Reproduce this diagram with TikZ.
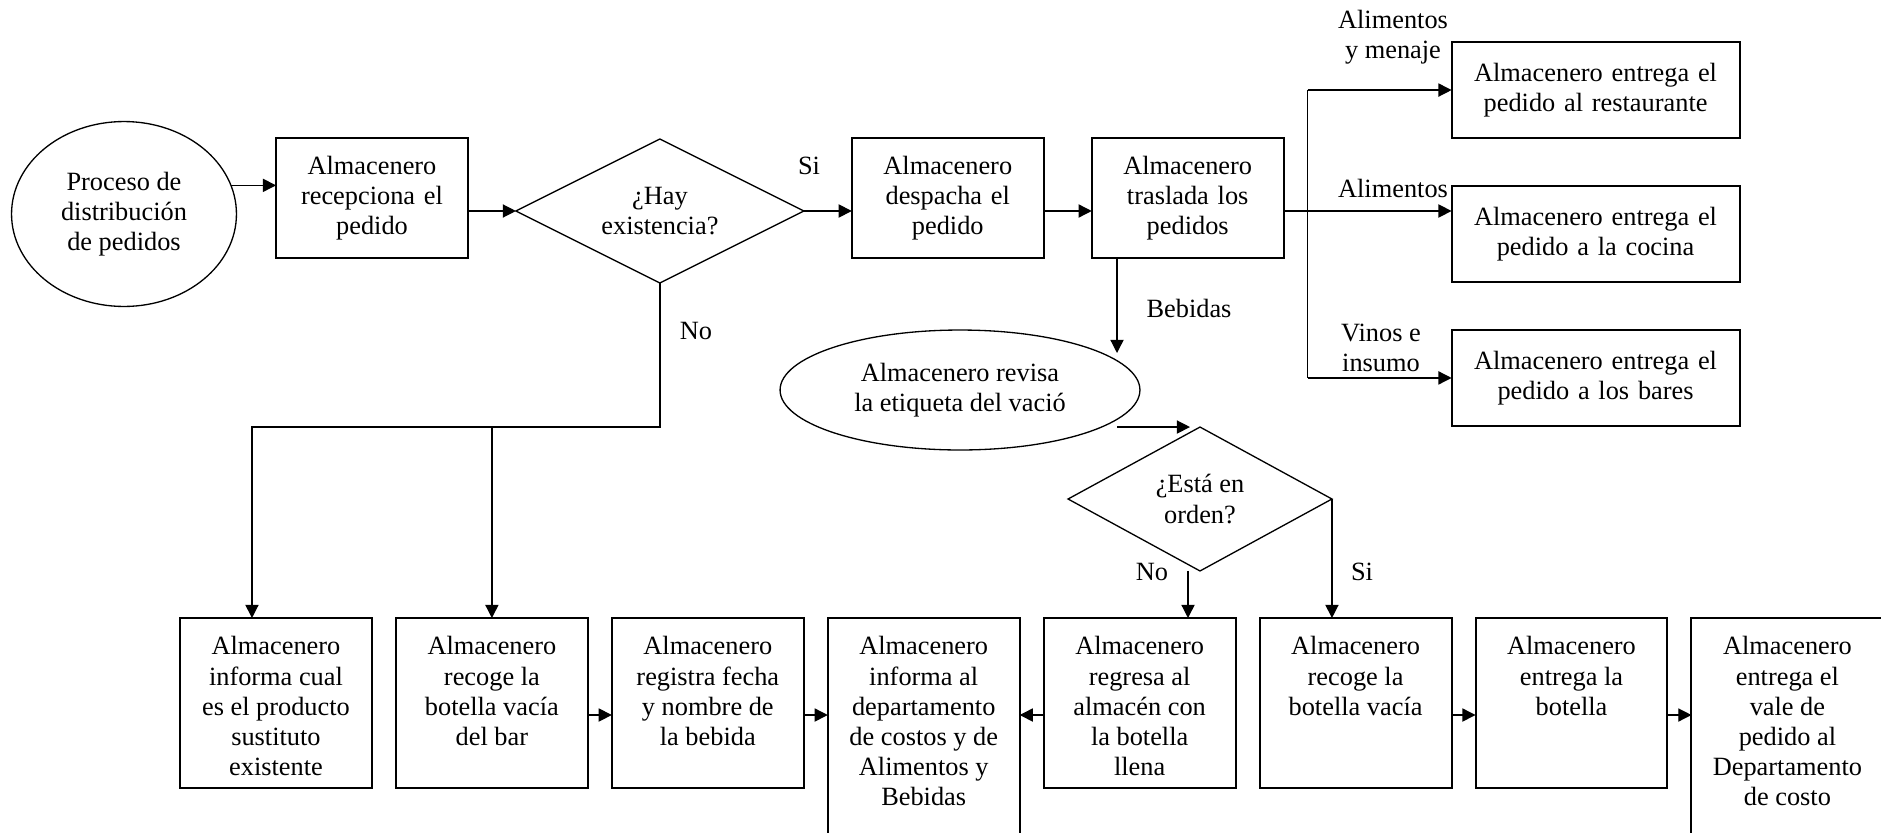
\documentclass[tikz,border=0pt]{standalone}
\usepackage{fontspec}
\setmainfont{Liberation Serif}
\usetikzlibrary{arrows.meta, positioning, shapes.geometric}

% text of the lower boxes starts at the top
\newcommand{\toptext}[2]{\parbox[c][#1][t]{3.072cm}{\centering\vspace*{8.5pt}#2}}

\begin{document}
\begin{tikzpicture}[
    x=0.016cm, y=-0.016cm,
    font=\fontsize{12}{13.7}\selectfont,
    block/.style={rectangle, draw=black, line width=0.9pt, inner sep=0pt, outer sep=0pt, minimum width=3.072cm, minimum height=1.92cm, text width=2.9cm, align=center},
    wide/.style={block, minimum width=4.608cm, minimum height=1.536cm, text width=4.4cm},
    lowbox/.style={rectangle, draw=black, line width=0.9pt, inner sep=0pt, outer sep=0pt, anchor=north west},
    decision/.style={diamond, draw=black, line width=0.6pt, inner sep=0pt, outer sep=0pt, align=center},
    oval/.style={ellipse, draw=black, line width=0.6pt, inner sep=0pt, outer sep=0pt, align=center},
    tag/.style={inner sep=0pt, align=center},
    arrow/.style={-{Triangle[length=6pt, width=6pt]}, line width=0.6pt}
]
    \useasboundingbox (0,0) rectangle (1881,832);
    \clip (0,0) rectangle (1881,832);

    % upper row
    \node[oval, minimum width=3.6cm, minimum height=2.96cm] (inicio) at (124,214) {Proceso de\\distribución\\de pedidos};
    \node[block] (recibe) at (372,198) {Almacenero\\recepciona el\\pedido};
    \node[decision, shape aspect=2, minimum width=4.608cm, minimum height=2.304cm, right=0.768cm of recibe, yshift=-0.208cm] (hay) {¿Hay\\existencia?};
    \node[block, right=0.768cm of hay, yshift=0.208cm] (despacha) {Almacenero\\despacha el\\pedido};
    \node[block, right=0.768cm of despacha] (traslada) {Almacenero\\traslada los\\pedidos};
    \node[wide, right=2.688cm of traslada, yshift=-0.576cm] (cocina) {Almacenero entrega el\\pedido a la cocina};
    \node[wide, above=0.768cm of cocina] (restaurante) {Almacenero entrega el\\pedido al restaurante};
    \node[wide, below=0.768cm of cocina] (bares) {Almacenero entrega el\\pedido a los bares};

    % bebidas
    \node[oval, minimum width=5.76cm, minimum height=1.92cm] (revisa) at (960,390) {Almacenero revisa\\la etiqueta del vació};
    \node[decision, shape aspect=1.8, minimum width=4.224cm, minimum height=2.304cm] (esta) at (1200,499) {¿Está en\\orden?};

    % lower row
    \node[lowbox] (sustituto) at (180,618) {\toptext{2.72cm}{Almacenero\\informa cual\\es el producto\\sustituto\\existente}};
    \node[lowbox, right=0.384cm of sustituto.north east, anchor=north west] (botella) {\toptext{2.72cm}{Almacenero\\recoge la\\botella vacía\\del bar}};
    \node[lowbox, right=0.384cm of botella.north east, anchor=north west] (registra) {\toptext{2.72cm}{Almacenero\\registra fecha\\y nombre de\\la bebida}};
    \node[lowbox, right=0.384cm of registra.north east, anchor=north west] (costos) {\toptext{4.2cm}{Almacenero\\informa al\\departamento\\de costos y de\\Alimentos y\\Bebidas}};
    \node[lowbox, right=0.384cm of costos.north east, anchor=north west] (regresa) {\toptext{2.72cm}{Almacenero\\regresa al\\almacén con\\la botella\\llena}};
    \node[lowbox, right=0.384cm of regresa.north east, anchor=north west] (recoge) {\toptext{2.72cm}{Almacenero\\recoge la\\botella vacía}};
    \node[lowbox, right=0.384cm of recoge.north east, anchor=north west] (entrega) {\toptext{2.72cm}{Almacenero\\entrega la\\botella}};
    \node[lowbox, right=0.384cm of entrega.north east, anchor=north west] (vale) {\toptext{4.2cm}{Almacenero\\entrega el\\vale de\\pedido al\\Departamento\\de costo}};

    % labels
    \node[tag] (lsi) at (809,166) {Si};
    \node[tag] (lno) at (696,331) {No};
    \node[tag] (lmenaje) at (1393,37) {Alimentos\\y menaje};
    \node[tag] (lalimentos) at (1393,188) {Alimentos};
    \node[tag] (lvinos) at (1381,348) {Vinos e\\insumo};
    \node[tag] (lbebidas) at (1189,308) {Bebidas};
    \node[tag] (lnoesta) at (1152,572) {No};
    \node[tag] (lsiesta) at (1362,572) {Si};

    \coordinate (ramal) at ([xshift=0.384cm]traslada.east);
    \coordinate (bebidas) at (1117,353);
    \coordinate (nocruce) at ([yshift=-2.304cm]hay.south);
    \coordinate (noizq) at ([xshift=-0.384cm]sustituto.north);
    \coordinate (noesta) at ([xshift=-0.192cm]esta.south);
    \coordinate (fila) at (0,715);

    \draw[arrow] (inicio.15) -- (inicio.15 -| recibe.west);
    \draw[arrow] (recibe.east |- hay.west) -- (hay.west);
    \draw[arrow] (hay.east) -- (hay.east -| despacha.west);
    \draw[arrow] (despacha.east |- hay.east) -- (traslada.west |- hay.east);
    \draw[arrow] (traslada.east |- hay.east) -- (cocina.west |- hay.east);
    \draw (ramal |- restaurante.west) -- (ramal |- bares.west);
    \draw[arrow] (ramal |- restaurante.west) -- (restaurante.west);
    \draw[arrow] (ramal |- bares.west) -- (bares.west);

    \draw[arrow] (traslada.south -| bebidas) -- (bebidas);
    \draw[arrow] ([xshift=-1.328cm]esta.north) -- ([xshift=-0.16cm]esta.north);
    \draw[arrow] (noesta) -- (noesta |- regresa.north);
    \draw[arrow] (esta.east) -- (esta.east |- recoge.north);

    \draw[arrow] (hay.south) -- (nocruce) -| (noizq);
    \draw[arrow] (botella.north |- nocruce) -- (botella.north);

    \draw[arrow] (botella.east |- fila) -- (registra.west |- fila);
    \draw[arrow] (registra.east |- fila) -- (costos.west |- fila);
    \draw[arrow] (regresa.west |- fila) -- (costos.east |- fila);
    \draw[arrow] (recoge.east |- fila) -- (entrega.west |- fila);
    \draw[arrow] (entrega.east |- fila) -- (vale.west |- fila);
\end{tikzpicture}
\end{document}
